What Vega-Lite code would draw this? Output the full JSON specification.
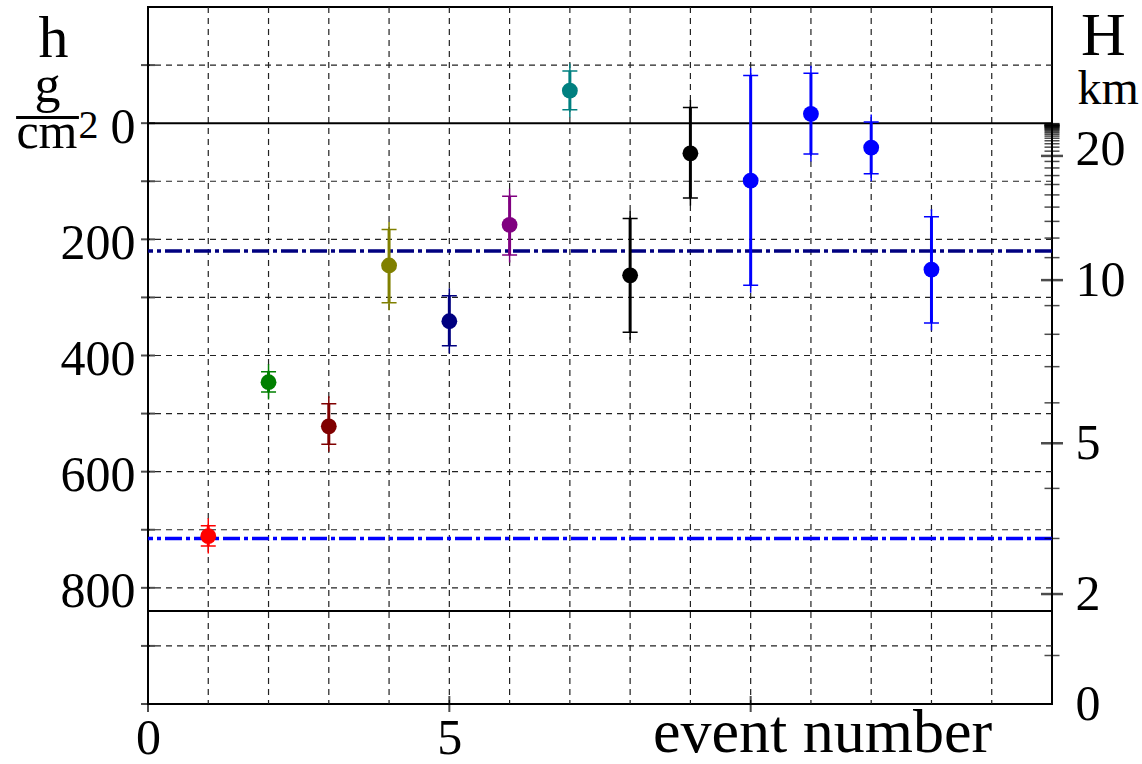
{
  "$schema": "https://vega.github.io/schema/vega-lite/v6.json",
  "width": 904,
  "height": 697,
  "autosize": "none",
  "padding": {"left": 148, "top": 7, "right": 90, "bottom": 60},
  "background": "white",
  "config": {
    "view": {"stroke": "black", "strokeWidth": 2},
    "font": "Liberation Serif",
    "axis": {
      "labelFont": "Liberation Serif",
      "titleFont": "Liberation Serif",
      "labelColor": "black",
      "titleColor": "black",
      "titleFontWeight": "normal",
      "domain": false,
      "ticks": false,
      "tickSize": 0,
      "grid": false,
      "labelOverlap": false,
      "labelBound": false,
      "labelFlush": false
    }
  },
  "datasets": {
    "events": [
      {"event": 1, "h": 711, "lo": 693, "hi": 728},
      {"event": 2, "h": 446, "lo": 428, "hi": 463},
      {"event": 3, "h": 522, "lo": 483, "hi": 553},
      {"event": 4, "h": 245, "lo": 183, "hi": 309},
      {"event": 5, "h": 341, "lo": 297, "hi": 383},
      {"event": 6, "h": 175, "lo": 126, "hi": 227},
      {"event": 7, "h": -56, "lo": -90, "hi": -23},
      {"event": 8, "h": 262, "lo": 164, "hi": 360},
      {"event": 9, "h": 52, "lo": -27, "hi": 129},
      {"event": 10, "h": 99, "lo": -82, "hi": 279},
      {"event": 11, "h": -16, "lo": -86, "hi": 53},
      {"event": 12, "h": 42, "lo": -2, "hi": 87},
      {"event": 13, "h": 252, "lo": 161, "hi": 344}
    ],
    "vgrid": [
      {"event": 1}, {"event": 2}, {"event": 3}, {"event": 4}, {"event": 5},
      {"event": 6}, {"event": 7}, {"event": 8}, {"event": 9}, {"event": 10},
      {"event": 11}, {"event": 12}, {"event": 13}, {"event": 14}
    ],
    "hgrid": [
      {"h": -100}, {"h": 100}, {"h": 200}, {"h": 300}, {"h": 400},
      {"h": 500}, {"h": 600}, {"h": 700}, {"h": 800}, {"h": 900}
    ],
    "bounds": [{"h": 0}, {"h": 840}],
    "levels": [{"h": 220, "level": "upper"}, {"h": 715, "level": "lower"}],
    "hticks": [
      {"h": -100}, {"h": 0}, {"h": 100}, {"h": 200}, {"h": 300}, {"h": 400},
      {"h": 500}, {"h": 600}, {"h": 700}, {"h": 800}, {"h": 900}, {"h": 1000}
    ],
    "xticks": [{"event": 0}, {"event": 5}, {"event": 10}],
    "kmticks": [
      {"km": 1, "h": 916.5}, {"km": 2, "h": 810.7}, {"km": 3, "h": 715.0},
      {"km": 4, "h": 628.8}, {"km": 5, "h": 551.1}, {"km": 6, "h": 481.5},
      {"km": 7, "h": 419.2}, {"km": 8, "h": 363.5}, {"km": 9, "h": 314.1},
      {"km": 10, "h": 270.2}, {"km": 11, "h": 231.5}, {"km": 12, "h": 197.8},
      {"km": 13, "h": 169.1}, {"km": 14, "h": 144.5}, {"km": 15, "h": 123.5},
      {"km": 16, "h": 105.6}, {"km": 17, "h": 90.2}, {"km": 18, "h": 77.1},
      {"km": 19, "h": 65.9}, {"km": 20, "h": 56.4}, {"km": 21, "h": 48.2},
      {"km": 22, "h": 41.3}, {"km": 23, "h": 35.4}, {"km": 24, "h": 30.3},
      {"km": 25, "h": 26.0}, {"km": 26, "h": 22.3}, {"km": 27, "h": 19.2},
      {"km": 28, "h": 16.5}, {"km": 29, "h": 14.2}, {"km": 30, "h": 12.2},
      {"km": 31, "h": 10.5}, {"km": 32, "h": 9.1}, {"km": 33, "h": 7.8},
      {"km": 34, "h": 6.8}, {"km": 35, "h": 5.9}, {"km": 36, "h": 5.1},
      {"km": 37, "h": 4.4}, {"km": 38, "h": 3.8}, {"km": 39, "h": 3.4},
      {"km": 40, "h": 2.9}, {"km": 45, "h": 1.5}, {"km": 50, "h": 0.8}
    ]
  },
  "layer": [
    {
      "data": {"name": "vgrid"},
      "mark": {"type": "rule", "color": "#222222", "strokeWidth": 1.2, "strokeDash": [6, 5]},
      "encoding": {
        "x": {
          "field": "event",
          "type": "quantitative",
          "scale": {"domain": [0, 15], "nice": false, "zero": false},
          "axis": {
            "orient": "bottom",
            "values": [0, 5],
            "labelFontSize": 50,
            "labelBaseline": "alphabetic",
            "labelPadding": 49,
            "title": "event number",
            "titleFontSize": 62,
            "titleAngle": 0,
            "titleAlign": "center",
            "titleBaseline": "alphabetic",
            "titleX": 674,
            "titleY": 47
          }
        }
      }
    },
    {
      "data": {"name": "hgrid"},
      "mark": {"type": "rule", "color": "#222222", "strokeWidth": 1.2, "strokeDash": [6, 5]},
      "encoding": {
        "y": {
          "field": "h",
          "type": "quantitative",
          "scale": {"domain": [-200, 1000], "reverse": true, "nice": false, "zero": false},
          "axis": {
            "orient": "left",
            "values": [-38, 14.3, 25.3, 42.5, 0, 200, 400, 600, 800],
            "labelExpr": "datum.value == -38 ? 'g' : datum.value == 14.3 ? '\u2014' : datum.value == 25.3 ? '2' : datum.value == 42.5 ? 'cm' : datum.label",
            "labelAlign": "right",
            "labelBaseline": "alphabetic",
            "labelFontSize": {
              "condition": [
                {"test": "datum.value == 14.3", "value": 62},
                {"test": "datum.value == 25.3", "value": 40},
                {"test": "datum.value == -38", "value": 52}
              ],
              "value": 50
            },
            "labelPadding": {
              "condition": [
                {"test": "datum.value == -38", "value": 88},
                {"test": "datum.value == 14.3", "value": 70},
                {"test": "datum.value == 42.5", "value": 71},
                {"test": "datum.value == 25.3", "value": 50}
              ],
              "value": 13
            },
            "labelOffset": {
              "condition": {"test": "datum.value == 0 || datum.value >= 200", "value": 19},
              "value": 0
            },
            "title": "h",
            "titleFontSize": 60,
            "titleAngle": 0,
            "titleAlign": "center",
            "titleBaseline": "alphabetic",
            "titleX": -95,
            "titleY": 49
          }
        }
      }
    },
    {
      "data": {"name": "bounds"},
      "mark": {"type": "rule", "color": "black", "strokeWidth": 2},
      "encoding": {
        "y": {"field": "h", "type": "quantitative", "axis": null}
      }
    },
    {
      "data": {"name": "levels"},
      "mark": {"type": "rule", "strokeWidth": 3.5, "strokeDash": [17, 4, 4, 4]},
      "encoding": {
        "y": {"field": "h", "type": "quantitative", "axis": null},
        "color": {
          "field": "level",
          "type": "nominal",
          "scale": {"domain": ["upper", "lower"], "range": ["#000080", "#0000ff"]},
          "legend": null
        }
      }
    },
    {
      "data": {"name": "events"},
      "mark": {"type": "rule", "strokeWidth": 3},
      "encoding": {
        "x": {"field": "event", "type": "quantitative", "axis": null},
        "y": {"field": "lo", "type": "quantitative", "axis": null},
        "y2": {"field": "hi"},
        "color": {
          "field": "event",
          "type": "nominal",
          "scale": {
            "domain": [1, 2, 3, 4, 5, 6, 7, 8, 9, 10, 11, 12, 13],
            "range": ["#ff0000", "#008000", "#800000", "#808000", "#000080", "#800080", "#008080", "#000000", "#000000", "#0000ff", "#0000ff", "#0000ff", "#0000ff"]
          },
          "legend": null
        }
      }
    },
    {
      "data": {"name": "events"},
      "mark": {"type": "point", "shape": "M-1,0L1,0M0,-1L0,1", "filled": false, "size": 225, "strokeWidth": 1.5, "opacity": 1},
      "encoding": {
        "x": {"field": "event", "type": "quantitative", "axis": null},
        "y": {"field": "lo", "type": "quantitative", "axis": null},
        "color": {
          "field": "event",
          "type": "nominal",
          "scale": {
            "domain": [1, 2, 3, 4, 5, 6, 7, 8, 9, 10, 11, 12, 13],
            "range": ["#ff0000", "#008000", "#800000", "#808000", "#000080", "#800080", "#008080", "#000000", "#000000", "#0000ff", "#0000ff", "#0000ff", "#0000ff"]
          },
          "legend": null
        }
      }
    },
    {
      "data": {"name": "events"},
      "mark": {"type": "point", "shape": "M-1,0L1,0M0,-1L0,1", "filled": false, "size": 225, "strokeWidth": 1.5, "opacity": 1},
      "encoding": {
        "x": {"field": "event", "type": "quantitative", "axis": null},
        "y": {"field": "hi", "type": "quantitative", "axis": null},
        "color": {
          "field": "event",
          "type": "nominal",
          "scale": {
            "domain": [1, 2, 3, 4, 5, 6, 7, 8, 9, 10, 11, 12, 13],
            "range": ["#ff0000", "#008000", "#800000", "#808000", "#000080", "#800080", "#008080", "#000000", "#000000", "#0000ff", "#0000ff", "#0000ff", "#0000ff"]
          },
          "legend": null
        }
      }
    },
    {
      "data": {"name": "events"},
      "mark": {"type": "point", "shape": "circle", "filled": true, "size": 250, "opacity": 1},
      "encoding": {
        "x": {"field": "event", "type": "quantitative", "axis": null},
        "y": {"field": "h", "type": "quantitative", "axis": null},
        "color": {
          "field": "event",
          "type": "nominal",
          "scale": {
            "domain": [1, 2, 3, 4, 5, 6, 7, 8, 9, 10, 11, 12, 13],
            "range": ["#ff0000", "#008000", "#800000", "#808000", "#000080", "#800080", "#008080", "#000000", "#000000", "#0000ff", "#0000ff", "#0000ff", "#0000ff"]
          },
          "legend": null
        }
      }
    },
    {
      "data": {"name": "hticks"},
      "mark": {"type": "tick", "orient": "horizontal", "size": 14, "thickness": 2, "color": "black"},
      "encoding": {
        "x": {"datum": 0, "type": "quantitative", "axis": null},
        "y": {"field": "h", "type": "quantitative", "axis": null}
      }
    },
    {
      "data": {"name": "xticks"},
      "mark": {"type": "tick", "orient": "vertical", "size": 16, "thickness": 2, "color": "black"},
      "encoding": {
        "x": {"field": "event", "type": "quantitative", "axis": null},
        "y": {"datum": 1000, "type": "quantitative", "axis": null}
      }
    },
    {
      "data": {"name": "kmticks"},
      "transform": [{"filter": {"not": {"field": "km", "oneOf": [2, 5, 10, 20]}}}],
      "mark": {"type": "tick", "orient": "horizontal", "size": 15, "thickness": 1.5, "color": "black"},
      "encoding": {
        "x": {"datum": 15, "type": "quantitative", "axis": null},
        "y": {
          "field": "h",
          "type": "quantitative",
          "axis": {
            "orient": "right",
            "values": [-33, 56.4, 270.2, 551.1, 810.7, 1000],
            "labelExpr": "datum.value < 0 ? 'km' : datum.value == 56.4 ? '20' : datum.value == 270.2 ? '10' : datum.value == 551.1 ? '5' : datum.value == 810.7 ? '2' : '0'",
            "labelAlign": "left",
            "labelBaseline": "alphabetic",
            "labelFontSize": {"condition": {"test": "datum.value < 0", "value": 48}, "value": 50},
            "labelPadding": {"condition": {"test": "datum.value < 0", "value": 25}, "value": 23},
            "labelOffset": {
              "condition": [
                {"test": "datum.value < 0", "value": 0},
                {"test": "datum.value == 56.4", "value": 9}
              ],
              "value": 15
            },
            "title": "H",
            "titleFontSize": 62,
            "titleAngle": 0,
            "titleAlign": "center",
            "titleBaseline": "alphabetic",
            "titleX": 51,
            "titleY": 47
          }
        }
      }
    },
    {
      "data": {"name": "kmticks"},
      "transform": [{"filter": {"field": "km", "oneOf": [2, 5, 10, 20]}}],
      "mark": {"type": "tick", "orient": "horizontal", "size": 22, "thickness": 2.5, "color": "black"},
      "encoding": {
        "x": {"datum": 15, "type": "quantitative", "axis": null},
        "y": {"field": "h", "type": "quantitative", "axis": null}
      }
    }
  ],
  "resolve": {"axis": {"x": "independent", "y": "independent"}, "scale": {"color": "independent"}}
}
